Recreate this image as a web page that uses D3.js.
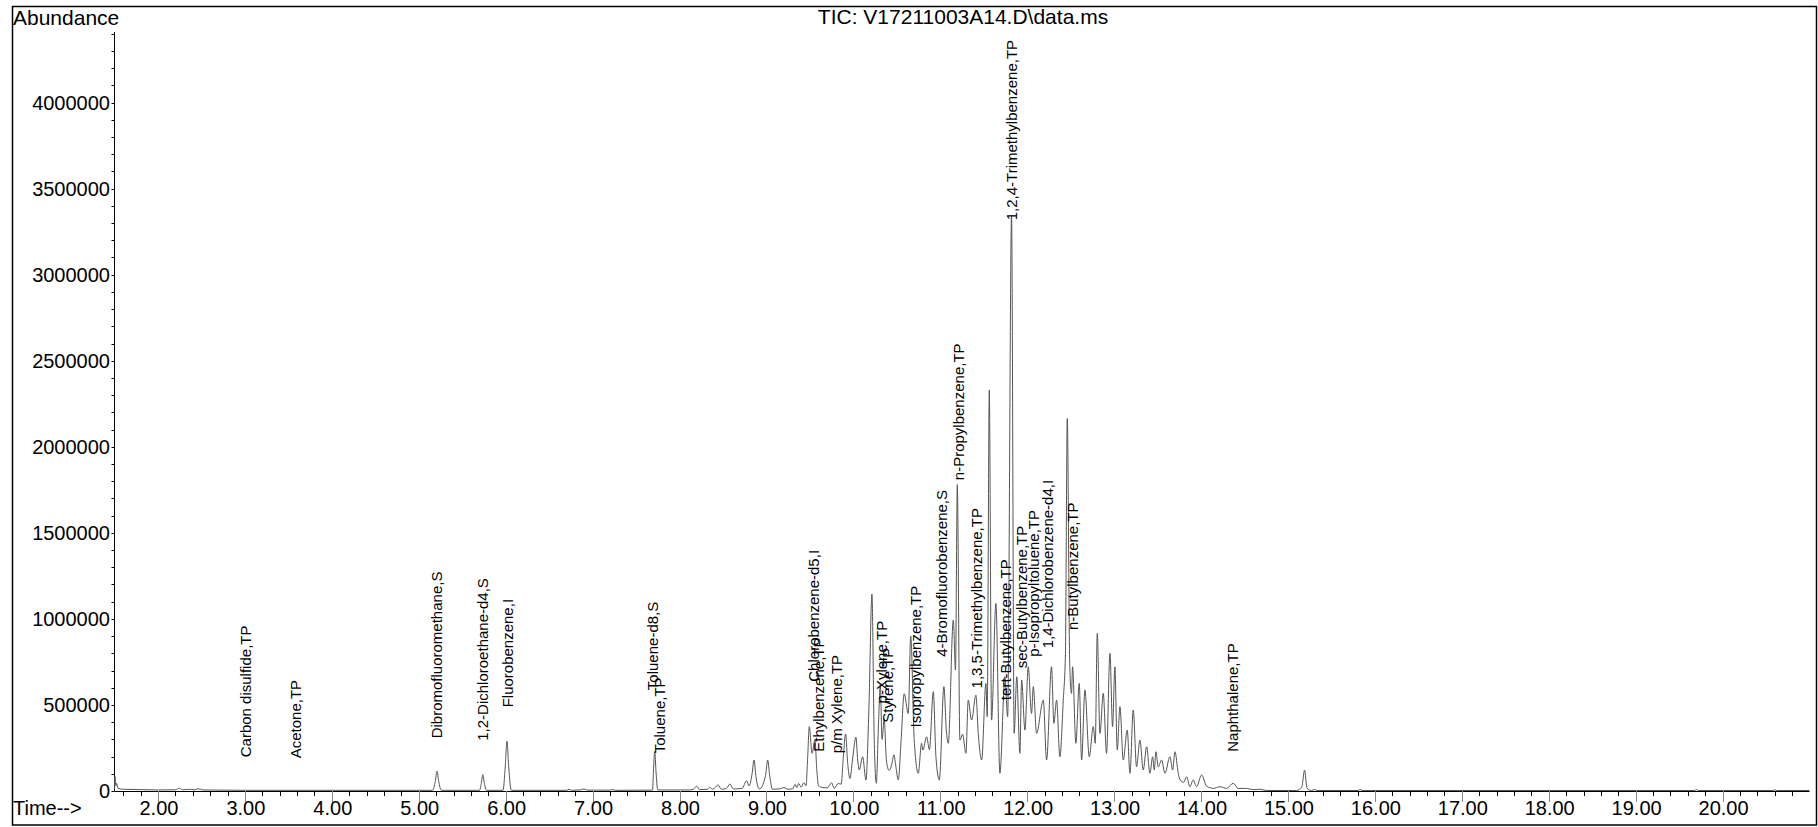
<!DOCTYPE html>
<html>
<head>
<meta charset="utf-8">
<script src="https://cdn.jsdelivr.net/npm/d3@7"></script>
<style>
    body { margin: 0; background: #fff; }
    svg { display: block; font-family: "Liberation Sans", Arial, sans-serif; }
</style>
</head>
<body>
<div id="chart"></div>
<script>
// Retention time (min) and abundance of the trace vertices
const traceTime = [
    1.50, 1.505, 1.515, 1.525, 1.54, 1.6, 1.8, 2.0, 2.2, 2.25, 2.28, 2.36, 2.42, 2.46, 2.52, 3.0,
    5.16, 5.19, 5.21, 5.23, 5.26, 5.70, 5.72, 5.737, 5.755, 5.78, 5.97, 5.995, 6.015, 6.035, 6.065,
    6.70, 6.73, 6.76, 6.86, 6.90, 6.94, 7.20, 7.23, 7.26, 7.69, 7.70, 7.715, 7.73, 7.75,
    8.10, 8.16, 8.197, 8.23, 8.32, 8.35, 8.38, 8.446, 8.48, 8.54, 8.58, 8.62, 8.72, 8.772, 8.80,
    8.835, 8.857, 8.88, 8.92, 8.99, 9.014, 9.04, 9.07, 9.15, 9.20, 9.25, 9.30, 9.33, 9.35, 9.37,
    9.40, 9.43, 9.455, 9.475, 9.493, 9.525, 9.558, 9.58, 9.60, 9.65, 9.70, 9.75, 9.78, 9.827, 9.86,
    9.885, 9.911, 9.935, 9.961, 9.99, 10.03, 10.05, 10.068, 10.107, 10.145, 10.18, 10.214, 10.24, 10.264,
    10.29, 10.31, 10.33, 10.355, 10.38, 10.41, 10.44, 10.467, 10.49, 10.517, 10.55, 10.585, 10.632, 10.66,
    10.70, 10.747, 10.785, 10.80, 10.843, 10.875, 10.92, 10.95, 10.989, 11.042, 11.07, 11.092, 11.15, 11.175,
    11.196, 11.226, 11.257, 11.295, 11.322, 11.36, 11.41, 11.437, 11.476, 11.525, 11.54, 11.564, 11.59, 11.64,
    11.686, 11.744, 11.775, 11.82, 11.85, 11.88, 11.916, 11.936, 11.974, 12.012, 12.05, 12.07, 12.108, 12.185,
    12.223, 12.28, 12.307, 12.338, 12.376, 12.415, 12.44, 12.461, 12.49, 12.51, 12.522, 12.56, 12.599, 12.626,
    12.664, 12.714, 12.76, 12.783, 12.806, 12.837, 12.875, 12.913, 12.952, 12.982, 13.009, 13.036, 13.067, 13.105,
    13.151, 13.182, 13.22, 13.258, 13.297, 13.335, 13.374, 13.412, 13.443, 13.462, 13.481, 13.508, 13.546, 13.585,
    13.642, 13.673, 13.70, 13.738, 13.76, 13.80, 13.834, 13.872, 13.91, 13.949, 14.006, 14.064, 14.10, 14.14,
    14.217, 14.294, 14.37, 14.428, 14.524, 14.60, 14.677, 14.754, 15.10, 15.16, 15.191, 15.22, 15.27, 15.31,
    15.33, 15.81, 15.83, 15.85, 19.68, 19.70, 19.72, 20.58, 20.60, 20.62, 21.0
];
const traceAbund = [
    15000, 85000, 30000, 45000, 15000, 10000, 8000, 6000, 7000, 16000, 7000, 10000, 7000, 13000, 6000, 4000,
    4000, 55000, 115000, 55000, 4000, 4000, 45000, 95000, 45000, 4000, 4000, 140000, 290000, 140000, 4000,
    4000, 10000, 4000, 6000, 12000, 5000, 5000, 9000, 4000, 5000, 110000, 230000, 110000, 6000,
    6000, 10000, 29000, 8000, 10000, 21000, 10000, 35000, 10000, 15000, 41000, 12000, 15000, 60000, 30000,
    100000, 180000, 80000, 12000, 90000, 180000, 80000, 10000, 12000, 20000, 10000, 12000, 38000, 20000, 44000,
    22000, 48000, 30000, 200000, 374000, 219000, 296000, 120000, 29000, 20000, 18000, 48000, 15000, 44000, 40000,
    200000, 331000, 160000, 73000, 180000, 312000, 180000, 122000, 199000, 64000, 500000, 1144000, 300000, 45000,
    400000, 620000, 300000, 420000, 180000, 120000, 150000, 210000, 140000, 64000, 300000, 565000, 450000, 900000,
    300000, 103000, 277000, 238000, 315000, 240000, 577000, 200000, 64000, 606000, 350000, 277000, 993000, 703000,
    1780000, 296000, 330000, 219000, 528000, 412000, 557000, 335000, 180000, 625000, 432000, 2329000, 412000, 1090000,
    103000, 664000, 432000, 3346000, 335000, 664000, 219000, 645000, 354000, 722000, 451000, 606000, 335000, 528000,
    180000, 722000, 393000, 528000, 199000, 528000, 800000, 2164000, 722000, 567000, 722000, 277000, 625000, 180000,
    586000, 199000, 374000, 277000, 916000, 335000, 567000, 219000, 800000, 374000, 722000, 238000, 490000, 180000,
    354000, 103000, 470000, 141000, 296000, 122000, 257000, 103000, 199000, 122000, 228000, 141000, 180000, 103000,
    199000, 122000, 228000, 103000, 64000, 50000, 83000, 25000, 64000, 25000, 93000, 28000, 20000, 15000,
    25000, 15000, 45000, 15000, 15000, 8000, 10000, 3000, 3000, 25000, 122000, 15000, 3000, 10000,
    3000, 3000, 10000, 3000, 3000, 8000, 3000, 3000, 7000, 3000, 3000
];

// Compound labels: name, retention time, abundance where the text starts
const labelNames = [
    "Carbon disulfide,TP", "Acetone,TP", "Dibromofluoromethane,S", "1,2-Dichloroethane-d4,S",
    "Fluorobenzene,I", "Toluene,TP", "Toluene-d8,S", "Chlorobenzene-d5,I", "Ethylbenzene,TP",
    "p/m Xylene,TP", "p-Xylene,TP", "Styrene,TP", "Isopropylbenzene,TP", "4-Bromofluorobenzene,S",
    "n-Propylbenzene,TP", "1,3,5-Trimethylbenzene,TP", "tert-Butylbenzene,TP", "1,2,4-Trimethylbenzene,TP",
    "sec-Butylbenzene,TP", "p-Isopropyltoluene,TP", "1,4-Dichlorobenzene-d4,I", "n-Butylbenzene,TP",
    "Naphthalene,TP"
];
const labelTime = [
    3.009, 3.584, 5.206, 5.736, 6.019, 7.776, 7.698, 9.545, 9.60, 9.808, 10.325, 10.40, 10.72,
    11.016, 11.207, 11.418, 11.755, 11.825, 11.936, 12.077, 12.24, 12.52, 14.37
];
const labelAbund = [
    196000, 190000, 306000, 292000, 486000, 219000, 586000, 635000, 228000, 219000, 509000, 397000, 369000,
    780000, 1806000, 596000, 528000, 3316000, 713000, 780000, 829000, 935000, 228000
];

const xMajorTicks = d3.range(2, 21, 1);
const xMinorTicks = d3.range(1.6, 20.9, 0.2);
const yMajorTicks = d3.range(0, 4000001, 500000);
const yMinorTicks = d3.range(0, 4400001, 100000);

const title = "TIC: V17211003A14.D\\data.ms";

function drawChart(container) {
    const width = 1818;
    const height = 827;

    const svg = d3.select(container)
        .append('svg')
        .attr('width', width)
        .attr('height', height);

    // Outer frame
    svg.append('rect')
        .attr('x', 12.5).attr('y', 6.5)
        .attr('width', 1804).attr('height', 818.5)
        .attr('fill', 'white')
        .attr('stroke', '#000')
        .attr('stroke-width', 1.5);

    const x = d3.scaleLinear()
        .domain([1.5, 21.0])
        .range([114.5, 1809.5]);

    const y = d3.scaleLinear()
        .domain([0, 4410000])
        .range([791, 32]);

    // Y axis: line, minor ticks, labels
    const yAxis = svg.append('g');
    yAxis.append('line')
        .attr('x1', x(1.5)).attr('x2', x(1.5))
        .attr('y1', y(4410000)).attr('y2', y(0))
        .attr('stroke', '#000');
    yAxis.selectAll('line.ytick')
        .data(yMinorTicks)
        .enter()
        .append('line')
        .attr('class', 'ytick')
        .attr('x1', x(1.5) - 3).attr('x2', x(1.5))
        .attr('y1', d => Math.round(y(d)) + 0.5)
        .attr('y2', d => Math.round(y(d)) + 0.5)
        .attr('stroke', '#000');
    yAxis.selectAll('text')
        .data(yMajorTicks)
        .enter()
        .append('text')
        .attr('x', 110)
        .attr('y', d => y(d))
        .attr('dy', '0.36em')
        .attr('text-anchor', 'end')
        .style('font-size', '20px')
        .text(d => d3.format('d')(d));

    // X axis: line, minor and major ticks, labels
    const xAxis = svg.append('g');
    xAxis.append('line')
        .attr('x1', x(1.5)).attr('x2', x(21.0))
        .attr('y1', y(0) + 0.5).attr('y2', y(0) + 0.5)
        .attr('stroke', '#000');
    xAxis.selectAll('line.xminor')
        .data(xMinorTicks.filter(d => Math.abs(d - Math.round(d)) > 0.05))
        .enter()
        .append('line')
        .attr('class', 'xminor')
        .attr('x1', d => Math.round(x(d)) + 0.5)
        .attr('x2', d => Math.round(x(d)) + 0.5)
        .attr('y1', y(0)).attr('y2', y(0) + 5)
        .attr('stroke', '#000');
    xAxis.selectAll('line.xmajor')
        .data(xMajorTicks)
        .enter()
        .append('line')
        .attr('class', 'xmajor')
        .attr('x1', d => Math.round(x(d)) + 0.5)
        .attr('x2', d => Math.round(x(d)) + 0.5)
        .attr('y1', y(0)).attr('y2', y(0) + 11)
        .attr('stroke', '#888');
    xAxis.selectAll('text')
        .data(xMajorTicks)
        .enter()
        .append('text')
        .attr('x', d => x(d) + 1)
        .attr('y', 815)
        .attr('text-anchor', 'middle')
        .style('font-size', '20px')
        .text(d => d3.format('.2f')(d));

    // Axis titles and chart title
    svg.append('text')
        .attr('x', 13).attr('y', 24.5)
        .style('font-size', '21px')
        .text('Abundance');
    svg.append('text')
        .attr('x', 13).attr('y', 815)
        .style('font-size', '20px')
        .text('Time-->');
    svg.append('text')
        .attr('x', 963).attr('y', 24)
        .attr('text-anchor', 'middle')
        .style('font-size', '21px')
        .text(title);

    // Chromatogram trace
    const points = traceTime.map((t, i) => [t, traceAbund[i]]);
    const line = d3.line()
        .curve(d3.curveMonotoneX)
        .x(d => x(d[0]))
        .y(d => y(d[1]));
    svg.append('path')
        .datum(points)
        .attr('d', line)
        .attr('fill', 'none')
        .attr('stroke', '#555')
        .attr('stroke-width', 1)
        .attr('stroke-linejoin', 'round');

    // Compound labels, rotated, starting just above the trace
    svg.append('g')
        .selectAll('text')
        .data(labelNames)
        .enter()
        .append('text')
        .attr('transform', (d, i) => `translate(${x(labelTime[i])},${y(labelAbund[i])}) rotate(-90)`)
        .attr('dy', '0.35em')
        .style('font-size', '15px')
        .text(d => d);
}

drawChart('#chart');
</script>
</body>
</html>
